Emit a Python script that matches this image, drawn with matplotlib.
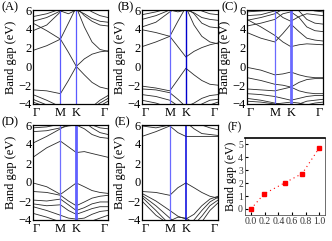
import matplotlib
matplotlib.use("Agg")
import matplotlib.pyplot as plt

plt.rcParams['font.family'] = ['Liberation Serif', 'DejaVu Serif']

# k-path: Γ - M - K - Γ (hexagonal, |ΓM| = 1)
kpts = [0, 0.5, 1.0, 1.29, 1.577, 1.87, 2.15, 2.44, 2.732]
k_ticks = [0, 1.0, 1.577, 2.732]
k_labels = ['Γ', 'M', 'K', 'Γ']

bands_a = [
    [1.7, 2.2, 2.9, 4.6, 6.3, 4.2, 2.6, 1.8, 1.6],
    [4.6, 3.8, 2.9, 1.5, 0.0, 0.8, 1.3, 1.55, 1.65],
    [-2.5, -2.6, -2.9, -1.5, 0.0, -0.9, -1.7, -2.2, -2.4],
    [5.3, 5.6, 6.1, 6.3, 6.3, 6.3, 5.8, 5.4, 5.2],
    [4.8, 5.2, 5.9, 5.6, 6.0, 5.6, 5.1, 4.8, 4.7],
    [3.8, 4.4, 5.8, 6.3, 6.3, 5.4, 4.8, 4.4, 4.3],
    [-3.0, -3.6, -4.3, -4.5, -4.5, -4.5, -4.3, -3.6, -3.1],
    [-3.5, -4.1, -4.5, -4.5, -4.5, -4.5, -4.4, -3.9, -3.4],
    [-3.8, -4.3, -4.5, -4.5, -4.5, -4.5, -4.5, -4.2, -3.7],
]

bands_b = [
    [2.1, 2.6, 3.2, 4.8, 6.3, 4.4, 3.2, 2.6, 2.4],
    [3.9, 3.6, 3.2, 2.1, 1.0, 1.6, 2.0, 2.3, 2.5],
    [-2.1, -2.3, -2.6, -1.4, -0.2, -0.9, -1.5, -1.9, -2.0],
    [5.5, 5.8, 6.2, 6.3, 6.3, 6.3, 5.9, 5.6, 5.5],
    [5.0, 5.4, 6.0, 5.8, 6.0, 5.7, 5.2, 5.0, 4.9],
    [4.2, 4.7, 5.8, 6.3, 6.3, 5.6, 4.6, 4.2, 4.1],
    [-2.4, -2.5, -2.8, -3.5, -4.3, -3.9, -3.4, -3.1, -3.0],
    [-3.0, -3.2, -3.6, -4.2, -4.5, -4.5, -4.0, -3.6, -3.5],
    [-3.6, -3.9, -4.4, -4.5, -4.5, -4.5, -4.5, -4.1, -3.8],
]

bands_c = [
    [5.0, 4.2, 3.3, 2.6, 2.1, 2.3, 2.4, 2.35, 2.3],
    [3.6, 3.0, 2.6, 3.5, 4.5, 3.7, 3.0, 2.8, 2.7],
    [5.8, 5.9, 6.0, 6.3, 6.3, 6.3, 6.1, 5.9, 5.8],
    [5.4, 5.5, 5.9, 5.2, 4.8, 5.3, 5.6, 5.5, 5.4],
    [4.9, 5.2, 5.6, 6.1, 6.3, 5.9, 5.0, 4.6, 4.5],
    [4.3, 4.6, 5.0, 5.6, 5.8, 5.2, 4.2, 3.8, 3.7],
    [-0.1, -0.4, -0.9, -0.8, -0.6, -0.9, -1.1, -1.2, -1.2],
    [-1.2, -1.5, -1.9, -2.0, -2.2, -1.7, -1.4, -1.3, -1.3],
    [-2.4, -2.5, -2.6, -2.4, -2.2, -2.6, -2.8, -2.9, -2.9],
    [-2.9, -3.0, -3.2, -3.4, -3.6, -3.4, -3.2, -3.1, -3.1],
    [-3.4, -3.6, -3.9, -4.1, -4.3, -4.0, -3.7, -3.6, -3.5],
    [-3.7, -3.8, -4.0, -3.9, -3.8, -3.9, -4.1, -3.9, -3.8],
]

bands_d = [
    [2.6, 3.6, 4.3, 3.7, 3.1, 3.2, 3.0, 2.8, 2.6],
    [5.7, 5.8, 6.1, 6.3, 6.3, 6.3, 6.0, 5.7, 5.6],
    [5.3, 5.4, 5.7, 5.9, 6.0, 5.6, 5.0, 4.7, 4.6],
    [4.1, 4.8, 5.6, 6.1, 6.3, 6.3, 5.7, 5.2, 5.0],
    [-0.1, -0.5, -1.3, -0.7, -0.1, -0.5, -0.9, -1.1, -1.2],
    [-1.0, -1.1, -1.4, -2.0, -2.5, -2.1, -1.7, -1.5, -1.4],
    [-1.9, -2.0, -1.8, -2.4, -3.0, -2.7, -2.3, -2.1, -2.1],
    [-2.3, -2.5, -2.4, -3.0, -3.4, -3.1, -2.8, -2.6, -2.6],
    [-2.6, -3.0, -3.5, -3.8, -3.9, -3.8, -3.4, -3.1, -3.0],
    [-3.3, -3.7, -4.2, -4.5, -4.5, -4.5, -4.1, -3.8, -3.5],
]

bands_e = [
    [4.8, 5.3, 5.9, 5.2, 4.8, 4.8, 4.8, 4.8, 4.8],
    [5.9, 5.7, 6.0, 6.3, 6.3, 6.3, 6.3, 6.3, 6.3],
    [6.3, 6.3, 6.3, 6.3, 6.3, 5.6, 5.1, 5.0, 4.9],
    [6.3, 6.3, 6.3, 6.3, 6.3, 6.3, 6.0, 5.7, 5.5],
    [-1.0, -1.1, -1.4, -0.6, -0.1, -0.6, -1.1, -1.5, -1.7],
    [-1.2, -2.0, -3.0, -3.6, -3.9, -3.4, -2.5, -1.8, -1.5],
    [-1.4, -2.5, -3.8, -4.5, -4.5, -4.0, -3.0, -2.1, -1.6],
    [-1.6, -3.0, -4.5, -4.5, -4.5, -4.5, -3.6, -2.5, -1.9],
    [-2.0, -3.5, -4.5, -4.5, -4.5, -4.5, -4.2, -3.0, -2.2],
    [-4.5, -4.5, -4.1, -3.7, -3.8, -4.3, -4.5, -4.5, -4.5],
]

# panel F: band gap vs concentration
conc = [0.0, 0.19, 0.5, 0.75, 1.0]
gap = [0.0, 1.16, 2.04, 2.74, 4.73]

W, H = 332, 241
fig = plt.figure(figsize=(W / 100, H / 100), dpi=100)


def ax_px(left, top, right, bottom):
    return fig.add_axes([left / W, 1 - bottom / H, (right - left) / W, (bottom - top) / H])


def band_panel(box, bands, m_style, k_style, tag, tag_x, tag_y):
    ax = ax_px(*box)
    for b in bands:
        ax.plot(kpts, b, color='#2a2a2a', lw=0.6)
    ax.axvline(k_ticks[1], **m_style)
    ax.axvline(k_ticks[2], **k_style)
    ax.set_xlim(0, k_ticks[-1])
    ax.set_ylim(-4, 6)
    ax.set_yticks([-4, -2, 0, 2, 4, 6])
    ax.set_xticks(k_ticks)
    ax.set_xticklabels(k_labels)
    labs = ax.get_xticklabels()
    labs[0].set_ha('left')
    labs[-1].set_ha('right')
    ax.tick_params(axis='x', labelsize=9, length=0, pad=2)
    ax.tick_params(axis='y', labelsize=9, length=0, pad=1)
    ax.set_ylabel('Band gap (eV)', fontsize=9, labelpad=1)
    for s in ax.spines.values():
        s.set_linewidth(0.9)
    fig.text(tag_x / W, 1 - tag_y / H, tag, fontsize=9, va='top', ha='left')
    return ax


band_panel((33, 10, 108, 104), bands_a,
           dict(color='#5a5aff', lw=0.9), dict(color='#5a5aff', lw=0.9), '(A)', 2, 1)
band_panel((142, 10, 218, 104), bands_b,
           dict(color='#6a6aff', lw=0.9), dict(color='#0000cc', lw=1.0), '(B)', 117, 1)
band_panel((247, 10, 323, 104), bands_c,
           dict(color='#6a6aff', lw=0.9), dict(color='#6a6aff', lw=2.0), '(C)', 222, 1)
band_panel((33, 125, 108, 220), bands_d,
           dict(color='#7070ff', lw=0.9), dict(color='#6060ff', lw=2.0), '(D)', 2, 116)
band_panel((142, 125, 218, 220), bands_e,
           dict(color='#6a6aff', lw=0.9), dict(color='#0000dd', lw=1.1), '(E)', 115, 116)

axf = ax_px(245, 138, 325, 215)
axf.plot(conc, gap, color='red', ls=(0, (1, 3)), lw=0.8)
axf.plot(conc, gap, 's', color='red', ms=3.3, ls='none')
axf.set_xlim(-0.088, 1.083)
axf.set_ylim(-0.47, 5.49)
axf.set_xticks([0.0, 0.2, 0.4, 0.6, 0.8, 1.0])
axf.set_xticklabels(['0.0', '0.2', '0.4', '0.6', '0.8', '1.0'])
axf.set_yticks([0, 1, 2, 3, 4, 5])
axf.tick_params(axis='both', labelsize=7, direction='in', length=2, pad=1.5,
                labelcolor='#333333')
axf.set_ylabel('Band gap (eV)', fontsize=8.5, labelpad=1)
axf.spines['top'].set_linewidth(1.2)
for s in ['left', 'right', 'bottom']:
    axf.spines[s].set_linewidth(0.6)
    axf.spines[s].set_color('#555555')
fig.text(228 / W, 1 - 121 / H, '(F)', fontsize=8.5, va='top', ha='left')

fig.savefig('out.png', dpi=100)
